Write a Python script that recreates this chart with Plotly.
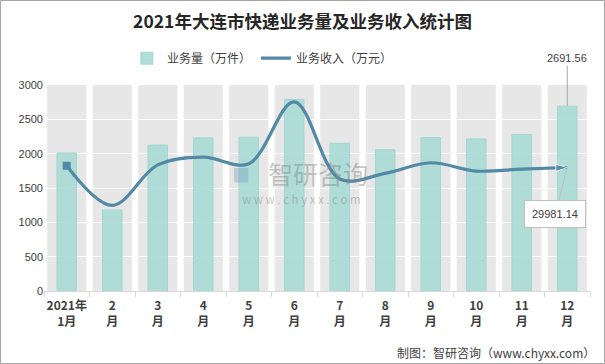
import plotly.graph_objects as go

months = ["2021年<br>1月", "2<br>月", "3<br>月", "4<br>月", "5<br>月", "6<br>月",
          "7<br>月", "8<br>月", "9<br>月", "10<br>月", "11<br>月", "12<br>月"]
volume = [2010, 1180, 2125, 2230, 2240, 2790, 2150, 2060, 2235, 2215, 2280, 2691.56]
revenue = [30400, 20780, 30600, 32500, 30880, 45900, 27200, 28550, 31130, 29120, 29600, 29981.14]
band_top = 3000
y_ticks = [0, 500, 1000, 1500, 2000, 2500, 3000]

FONT = "Noto Sans CJK SC"
TXT = "#404040"
LINE_C = "#528aa5"
L, R, T, B = 44, 15, 85, 73
W, H = 605, 364
pw, ph = W - L - R, H - T - B

fig = go.Figure()

# gray category bands (below gridlines)
for i, _ in enumerate(months):
    fig.add_shape(type="rect", xref="x", yref="y", x0=i - 0.43, x1=i + 0.43,
                  y0=0, y1=band_top, fillcolor="#e7e7e7", line_width=0, layer="below")

fig.add_trace(go.Bar(
    x=months, y=volume, name="业务量（万件）", width=0.43,
    marker=dict(color="rgba(168,218,213,0.9)", line=dict(color="#a3d8d2", width=1)),
))

fig.add_trace(go.Scatter(
    x=months, y=revenue, name="业务收入（万元）", yaxis="y2", mode="lines",
    line=dict(color=LINE_C, width=3.2, shape="spline", smoothing=1.0),
))
# start square and end arrow
fig.add_trace(go.Scatter(
    x=[months[0]], y=[revenue[0]], yaxis="y2", mode="markers", showlegend=False,
    marker=dict(symbol="square", size=8, color=LINE_C),
))
fig.add_trace(go.Scatter(
    x=months[-2:], y=revenue[-2:], yaxis="y2", mode="markers", showlegend=False,
    marker=dict(symbol="arrow", size=[0, 12], color=LINE_C, angleref="previous"),
))

fig.update_layout(
    width=W, height=H,
    margin=dict(l=L, r=R, t=T, b=B, autoexpand=False),
    paper_bgcolor="white", plot_bgcolor="white",
    font=dict(family=FONT, color=TXT, size=11),
    title=dict(text="<b>2021年大连市快递业务量及业务收入统计图</b>", x=0.5, xanchor="center",
               y=0.94, yanchor="middle", font=dict(family=FONT, size=17.5, color="#262626")),
    showlegend=True,
    legend=dict(orientation="h", x=0.40, xanchor="center", y=1.13, yanchor="middle",
                font=dict(size=12, color=TXT), bgcolor="rgba(0,0,0,0)"),
    xaxis=dict(type="category", range=[-0.5, len(months) - 0.5], autorange=False,
               showgrid=False, showline=True, linecolor="#d9d9d9",
               ticks="outside", tickson="boundaries", ticklen=5, tickcolor="#d9d9d9",
               tickangle=0, automargin=False,
               tickfont=dict(size=12, color=TXT, family=FONT), ticklabelstandoff=4),
    yaxis=dict(range=[0, 3000], tickvals=y_ticks, showgrid=True, gridcolor="white",
               gridwidth=1, zeroline=False, showline=False, automargin=False,
               tickfont=dict(size=11, color=TXT, family="Liberation Sans")),
    yaxis2=dict(range=[0, 50000], overlaying="y", visible=False),
)
fig.update_xaxes(tickvals=months, ticktext=["<b>" + m + "</b>" for m in months])

# data labels
fig.add_annotation(x=months[-1], y=volume[-1], text=f"{volume[-1]:.2f}", showarrow=True,
                   arrowhead=0, arrowwidth=1, arrowcolor="#a6a6a6", ax=0, ay=-48,
                   font=dict(size=11, color=TXT, family="Liberation Sans"))
fig.add_annotation(x=months[-1], y=revenue[-1], yref="y2", text=f"{revenue[-1]:.2f}",
                   showarrow=True, arrowhead=0, arrowwidth=1, arrowcolor="#bfbfbf",
                   ax=-12, ay=47, bgcolor="white", bordercolor="#bfbfbf", borderwidth=1,
                   borderpad=7, font=dict(size=11, color=TXT, family="Liberation Sans"))

# watermark
def px(xp):
    return (xp - L) / pw
def py(yp):
    return (H - B - yp) / ph
WM = "rgba(130,130,130,0.45)"
fig.add_annotation(xref="paper", yref="paper", x=px(318), y=py(173), text="智研咨询", showarrow=False,
                   font=dict(size=25, color=WM, family=FONT))
fig.add_annotation(xref="paper", yref="paper", x=px(301), y=py(199),
                   text="\u00a0".join("www.chyxx.com"),
                   showarrow=False, font=dict(size=11.5, color=WM, family=FONT))
fig.add_annotation(xref="paper", yref="paper", x=px(241), y=py(174), text="■",
                   showarrow=False, font=dict(size=18, color="rgba(110,150,190,0.35)", family=FONT))

# source
fig.add_annotation(xref="paper", yref="paper", x=px(597), xanchor="right", y=py(352), yanchor="middle",
                   text="制图：智研咨询（www.chyxx.com）", showarrow=False,
                   font=dict(size=12, color=TXT, family=FONT))

# outer border
fig.add_shape(type="rect", xref="paper", yref="paper",
              x0=px(0.5), x1=px(W - 0.5), y0=py(H - 0.5), y1=py(0.5),
              line=dict(color="#a6a6a6", width=1), fillcolor="rgba(0,0,0,0)", layer="above")

fig.write_html("out.html", config={"displayModeBar": False},
               post_script="document.body.style.margin='0';")
